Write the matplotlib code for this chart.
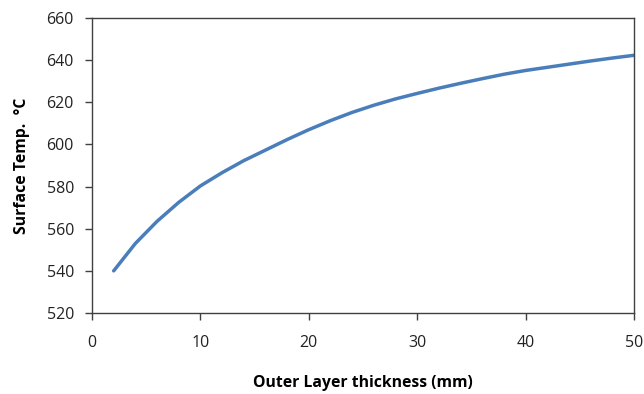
import matplotlib
matplotlib.use("Agg")
import matplotlib.pyplot as plt

thickness_mm = [2, 4, 6, 8, 10, 12, 14, 16, 18, 20, 22, 24, 26, 28, 30,
                32, 34, 36, 38, 40, 42, 44, 46, 48, 50]
surface_temp = [540, 553, 563.5, 572.5, 580.3, 586.6, 592.3, 597.3, 602.3, 607,
                611.3, 615.2, 618.6, 621.6, 624.2, 626.7, 629, 631.2, 633.3, 635.1,
                636.6, 638.1, 639.6, 641, 642.3]
x_ticks = [0, 10, 20, 30, 40, 50]
y_ticks = [520, 540, 560, 580, 600, 620, 640, 660]

plt.rcParams['font.family'] = ['Open Sans', 'DejaVu Sans']

fig = plt.figure(figsize=(6.44, 3.94), dpi=100)
ax = fig.add_axes([92/644, 1-313/394, (634-92)/644, (313-18)/394])
ax.plot(thickness_mm, surface_temp, color='#4A7EBB', linewidth=2.5,
        solid_capstyle='round', solid_joinstyle='round')
ax.set_xlim(0, 50)
ax.set_ylim(520, 660)
ax.set_xticks(x_ticks)
ax.set_yticks(y_ticks)
for s in ax.spines.values():
    s.set_color('#404040')
    s.set_linewidth(1.0)
ax.tick_params(direction='out', length=5, width=1, color='#404040',
               labelsize=11.5, labelcolor='#222222', pad=8)
ax.tick_params(axis='x', pad=11)
ax.set_xlabel('Outer Layer thickness (mm)', fontsize=11.3, fontweight='bold',
              labelpad=17)
ax.set_ylabel('Surface Temp.  \u00b0C', fontsize=11.3, fontweight='bold',
              labelpad=12)
fig.savefig('out.png', dpi=100)
